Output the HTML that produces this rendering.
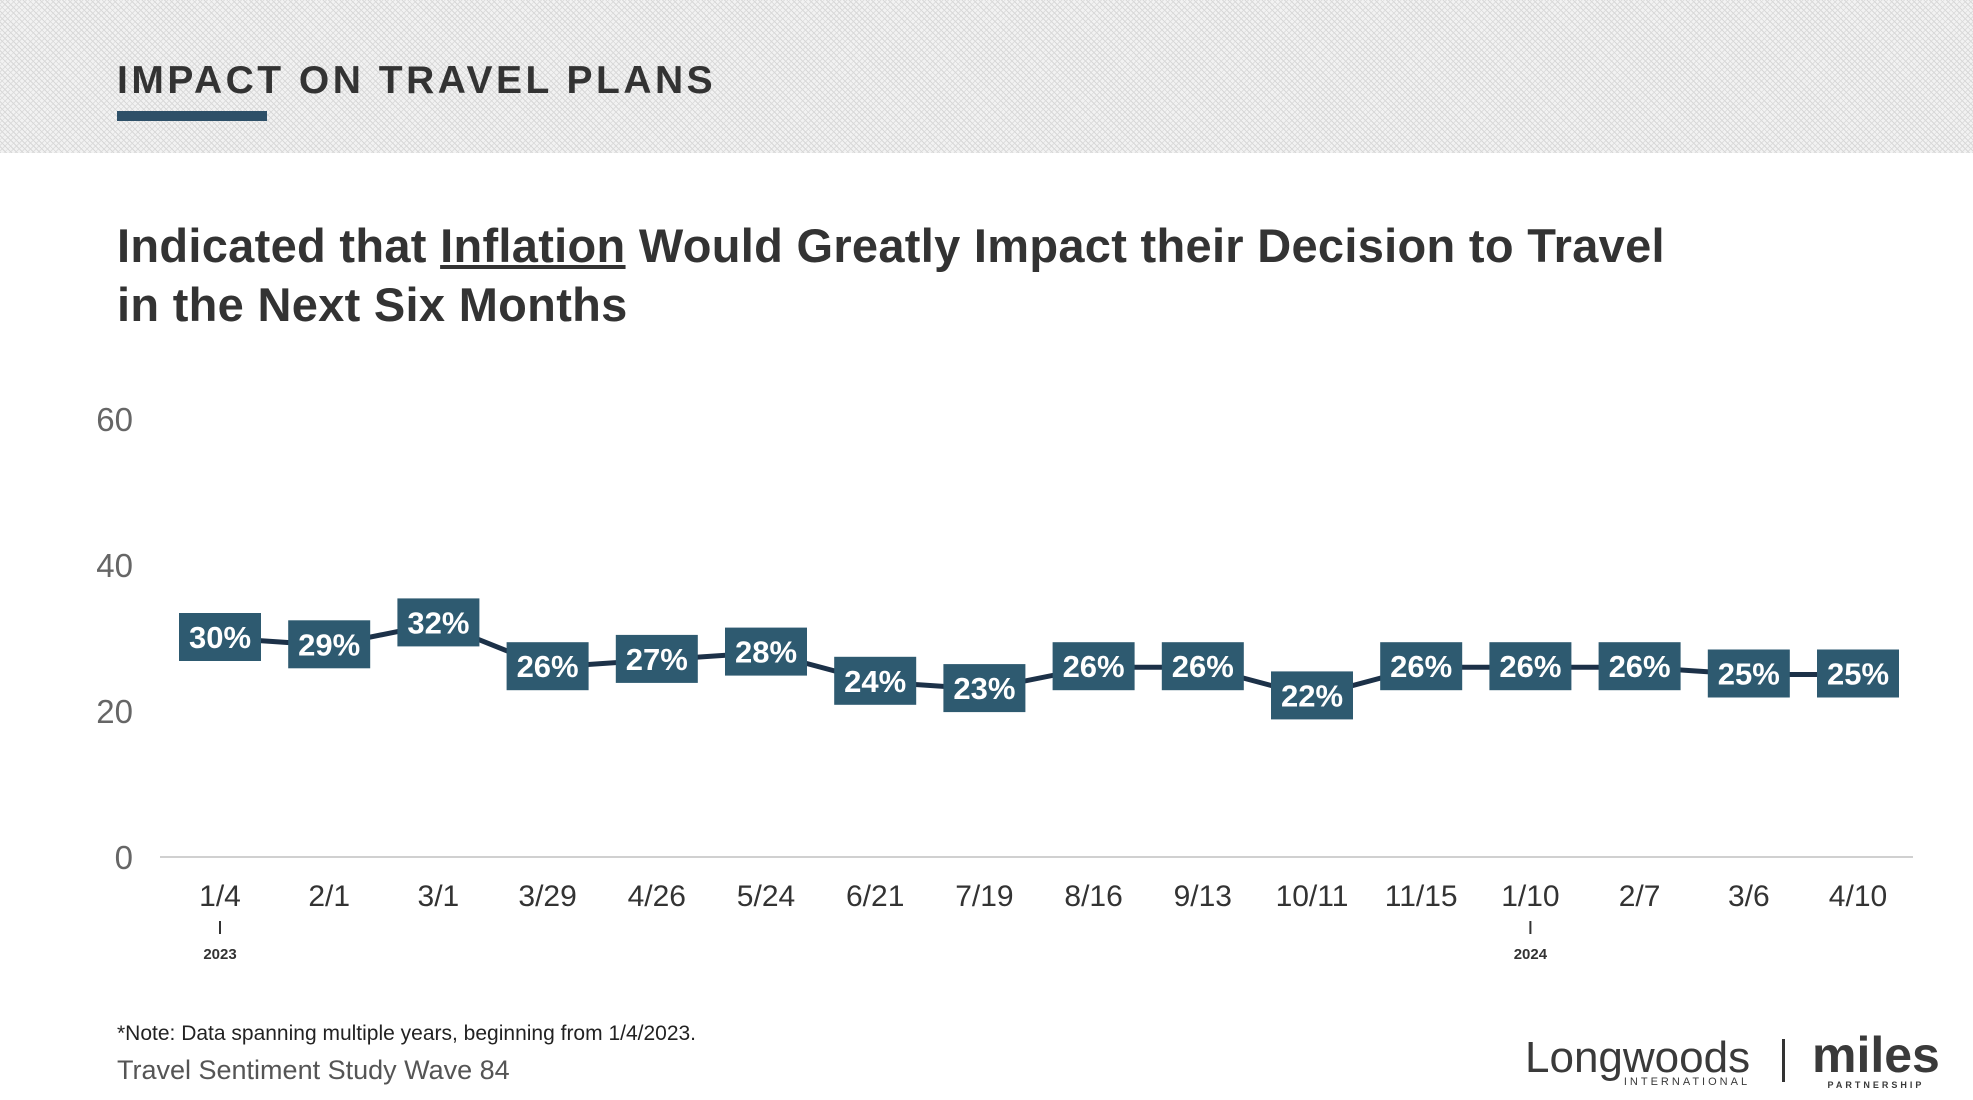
<!DOCTYPE html>
<html><head><meta charset="utf-8">
<style>
body{margin:0;width:1973px;height:1100px;background:#fff;overflow:hidden;font-family:"Liberation Sans",sans-serif;position:relative}
#hdr{position:absolute;left:0;top:0;width:1973px;height:153px;background-color:#f2f2f2;background-image:repeating-linear-gradient(45deg,#d8d8d8 0 1px,transparent 1px 4px),repeating-linear-gradient(-45deg,#dedede 0 1px,transparent 1px 4px)}
</style></head><body>
<div id="hdr"></div>
<div style="position:absolute;left:117px;top:59px;font-size:39px;letter-spacing:3.5px;color:#333;font-weight:bold">IMPACT ON TRAVEL PLANS</div>
<div style="position:absolute;left:117px;top:111px;width:150px;height:10px;background:#2e5068"></div>
<div style="position:absolute;left:117px;top:216px;font-size:47px;line-height:59px;font-weight:bold;color:#333;letter-spacing:0.3px">Indicated that <u>Inflation</u> Would Greatly Impact their Decision to Travel<br>in the Next Six Months</div>
<svg id="chart" width="1973" height="1100" style="position:absolute;left:0;top:0"></svg>
<div style="position:absolute;left:117px;top:1022px;font-size:21px;color:#222">*Note: Data spanning multiple years, beginning from 1/4/2023.</div>
<div style="position:absolute;left:117px;top:1055px;font-size:27px;color:#555">Travel Sentiment Study Wave 84</div>
<div style="position:absolute;left:1525px;top:1036px;font-size:44px;color:#3a3a3a;line-height:44px">Longwoods<div style="font-size:11px;letter-spacing:3px;text-align:right;line-height:12px;margin-top:-4px">INTERNATIONAL</div></div>
<div style="position:absolute;left:1782px;top:1039px;width:3px;height:43px;background:#333"></div>
<div style="position:absolute;left:1812px;top:1030px;font-size:50px;font-weight:bold;color:#3a3a3a;line-height:50px">miles<div style="font-size:9px;letter-spacing:3px;text-align:center;line-height:10px">PARTNERSHIP</div></div>
<script>
const categories=["1/4","2/1","3/1","3/29","4/26","5/24","6/21","7/19","8/16","9/13","10/11","11/15","1/10","2/7","3/6","4/10"];
const values=[30,29,32,26,27,28,24,23,26,26,22,26,26,26,25,25];
const yTicks=[0,20,40,60];
const yearLabels={0:"2023",12:"2024"};
const svg=document.getElementById('chart');
const NS='http://www.w3.org/2000/svg';
const x0=220,dx=109.2,yBase=857,pxPerUnit=146/20;
const xS=i=>x0+i*dx;
const yS=v=>yBase-v*pxPerUnit;
function mk(t,a,txt){const e=document.createElementNS(NS,t);for(const k in a)e.setAttribute(k,a[k]);if(txt!==undefined)e.textContent=txt;svg.appendChild(e);return e;}
for(const t of yTicks){
 const e=mk('text',{x:133,y:yS(t)+12,'text-anchor':'end','font-size':33,fill:'#666','font-family':'Liberation Sans, sans-serif'},String(t));
 
 
}
const ax=mk('line',{x1:160,x2:1913,y1:yBase,y2:yBase,stroke:'#d0d0d0','stroke-width':2});


const pl=mk('polyline',{points:values.map((v,i)=>xS(i)+','+yS(v)).join(' '),fill:'none',stroke:'#1c3148','stroke-width':5});


categories.forEach((c,i)=>{
 const t=mk('text',{x:xS(i),y:906,'text-anchor':'middle','font-size':30,fill:'#333','font-family':'Liberation Sans, sans-serif'},c);
 
 
 if(yearLabels[i]){
  const tk=mk('line',{x1:xS(i),x2:xS(i),y1:921,y2:934,stroke:'#333','stroke-width':2});
  
  
  const yl=mk('text',{x:xS(i),y:959,'text-anchor':'middle','font-size':15,'font-weight':'bold',fill:'#333','font-family':'Liberation Sans, sans-serif'},yearLabels[i]);
  
  
 }
});
values.forEach((v,i)=>{
 const r=mk('rect',{x:xS(i)-41,y:yS(v)-25,width:82,height:48,fill:'#2e5a70'});
 
 
 const t=mk('text',{x:xS(i),y:yS(v)+10,'text-anchor':'middle','font-size':31,'font-weight':'bold',fill:'#fff','font-family':'Liberation Sans, sans-serif'},v+'%');
 
 
});
</script>
</body></html>
